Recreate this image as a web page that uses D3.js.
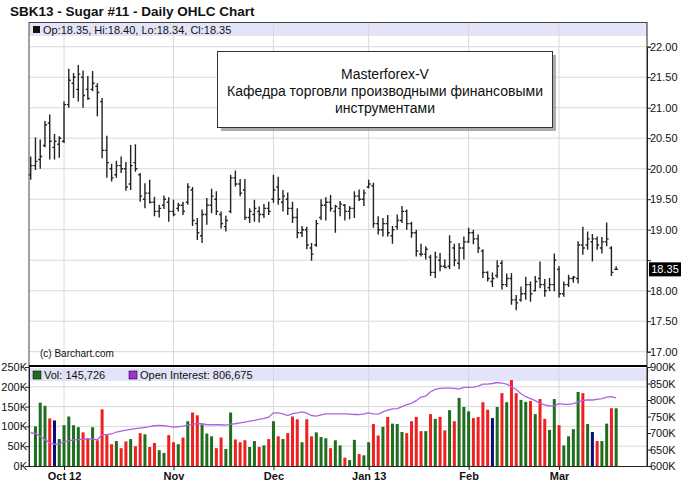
<!DOCTYPE html>
<html><head><meta charset="utf-8">
<script src="https://cdn.jsdelivr.net/npm/d3@7"></script>
<style>body{margin:0;background:#fff}svg{display:block;font-family:Arial,"Liberation Sans",sans-serif}</style>
</head><body><svg id="c" width="688" height="484"></svg>
<script>
const opens=[19.90,20.05,20.15,20.38,20.75,20.35,20.40,20.45,21.05,21.40,21.30,21.50,21.30,21.30,21.35,21.10,20.30,20.00,19.90,20.05,20.00,19.75,20.10,19.90,19.50,19.60,19.45,19.30,19.40,19.45,19.30,19.35,19.40,19.45,19.65,19.10,18.90,19.25,19.40,19.50,19.25,19.05,19.30,19.85,19.75,19.65,19.20,19.25,19.30,19.25,19.35,19.50,19.70,19.45,19.50,19.35,19.20,18.95,19.00,18.70,18.75,19.20,19.40,19.45,19.30,19.35,19.40,19.30,19.35,19.55,19.50,19.70,19.72,19.10,19.00,19.10,18.90,19.05,19.15,19.30,19.10,18.95,18.60,18.60,18.55,18.30,18.50,18.40,18.40,18.70,18.45,18.70,18.80,18.95,18.85,18.65,18.30,18.15,18.25,18.45,18.10,18.20,17.85,17.85,17.95,18.10,18.00,18.20,18.10,18.05,18.10,18.35,17.95,18.10,18.20,18.20,18.75,18.75,18.80,18.85,18.70,18.80,18.70,18.35];
const highs=[20.20,20.51,20.48,20.78,20.89,20.57,20.53,21.10,21.64,21.57,21.70,21.61,21.52,21.60,21.40,21.16,20.54,20.08,20.13,20.20,20.11,20.39,20.40,19.93,19.76,19.82,19.54,19.41,19.56,19.53,19.49,19.44,19.46,19.76,19.70,19.19,19.33,19.52,19.67,19.63,19.30,19.23,19.90,19.97,19.83,19.83,19.35,19.49,19.38,19.42,19.46,19.90,19.87,19.65,19.61,19.46,19.35,19.06,19.05,18.78,19.16,19.50,19.53,19.57,19.41,19.47,19.42,19.39,19.63,19.66,19.66,19.82,19.77,19.22,19.19,19.24,19.06,19.25,19.39,19.33,19.13,19.00,18.77,18.73,18.59,18.64,18.62,18.51,18.91,18.77,18.78,18.89,19.03,19.00,18.92,18.68,18.32,18.30,18.50,18.50,18.28,18.29,17.93,18.07,18.23,18.15,18.24,18.48,18.19,18.21,18.61,18.40,18.15,18.26,18.24,18.81,19.05,18.97,18.93,18.89,18.88,19.12,18.73,18.40];
const lows=[19.82,19.98,20.00,20.35,20.15,20.15,20.18,20.42,21.00,21.16,21.10,21.00,21.13,21.27,20.86,20.17,19.85,19.79,19.85,19.93,19.64,19.65,19.95,19.46,19.35,19.43,19.22,19.20,19.34,19.13,19.22,19.30,19.24,19.41,19.06,18.83,18.78,19.08,19.27,19.24,19.02,18.97,19.27,19.71,19.55,19.16,19.11,19.13,19.12,19.19,19.24,19.44,19.41,19.30,19.24,19.11,18.86,18.88,18.68,18.49,18.72,19.16,19.15,19.30,18.95,19.22,19.15,19.17,19.19,19.47,19.39,19.68,19.03,18.92,18.89,18.89,18.77,19.00,19.11,19.00,18.87,18.56,18.56,18.51,18.24,18.21,18.32,18.37,18.35,18.40,18.35,18.51,18.78,18.76,18.62,18.21,18.15,18.06,18.21,18.02,18.06,17.77,17.68,17.82,17.85,17.82,17.99,18.04,17.90,17.99,17.99,17.89,17.90,18.06,18.13,18.12,18.59,18.67,18.48,18.67,18.61,18.73,18.24,18.34];
const closes=[20.05,20.12,20.20,20.72,20.45,20.45,20.50,21.05,21.45,21.50,21.55,21.20,21.15,21.40,21.25,20.30,20.10,19.85,20.05,20.00,19.70,20.05,20.00,19.55,19.60,19.45,19.30,19.35,19.50,19.30,19.25,19.40,19.30,19.70,19.15,18.95,19.25,19.40,19.55,19.30,19.10,19.15,19.85,19.75,19.60,19.20,19.30,19.35,19.25,19.35,19.30,19.65,19.50,19.55,19.35,19.20,18.95,19.00,18.75,18.60,19.10,19.40,19.45,19.35,19.38,19.42,19.30,19.35,19.55,19.50,19.60,19.75,19.10,19.00,19.10,18.95,19.00,19.15,19.30,19.10,18.95,18.65,18.60,18.68,18.30,18.55,18.40,18.38,18.80,18.50,18.70,18.80,18.95,18.85,18.70,18.30,18.20,18.20,18.40,18.10,18.20,17.85,17.80,17.95,18.10,17.95,18.15,18.10,18.00,18.10,18.50,17.95,18.10,18.20,18.22,18.75,18.70,18.85,18.85,18.75,18.80,18.85,18.30,18.35];
const volumes=[null,100000,160000,152000,120000,115000,68000,103000,125000,103000,98000,85000,70000,98000,65000,143000,78000,55000,63000,45000,62000,68000,50000,83000,80000,48000,58000,40000,33000,78000,60000,55000,72000,113000,135000,128000,105000,82000,75000,45000,72000,43000,135000,67000,60000,65000,48000,63000,48000,52000,68000,113000,75000,68000,83000,125000,118000,60000,118000,75000,85000,73000,70000,45000,65000,52000,21000,15000,66000,30000,27000,60000,106000,77000,99000,124000,107000,106000,86000,83000,113000,124000,88000,88000,131000,119000,124000,90000,141000,113000,172000,149000,138000,121000,124000,161000,142000,121000,149000,184000,161000,217000,184000,167000,162000,164000,131000,169000,119000,91000,169000,103000,52000,75000,93000,187000,184000,106000,86000,63000,63000,107000,146000,145726];
const openInterest=[700000,699000,690000,680000,670000,666000,667000,673000,676000,679000,680000,681000,682000,682000,679000,695000,695000,697000,703000,706000,709000,711000,713000,715000,717000,719000,722000,723000,722000,720000,718000,719000,721000,724000,727000,728000,728000,725000,725000,725000,725000,724000,727000,728000,731000,733000,736000,738000,741000,744000,748000,761000,761000,758000,753000,759000,761000,764000,760000,753000,751000,755000,758000,758000,758000,758000,758000,757000,756000,756000,758000,761000,758000,757000,764000,769000,773000,774000,780000,786000,790000,798000,809000,812000,825000,832000,835000,836000,836000,835000,833000,838000,838000,839000,842000,848000,848000,850000,853000,851000,848000,840000,832000,819000,810000,804000,798000,790000,785000,782000,782000,789000,787000,787000,789000,794000,799000,800000,800000,802000,804000,809000,810000,806675];
const priceTicks=[17,17.5,18,18.5,19,19.5,20,20.5,21,21.5,22];
const volTicks=[0,50000,100000,150000,200000,250000];
const oiTicks=[600000,650000,700000,750000,800000,850000,900000];
const monthIdx=[7,30,51,71,92,111];
const monthLabels=["Oct 12","Nov","Dec","Jan 13","Feb","Mar"];
const titleText="SBK13 - Sugar #11 - Daily OHLC Chart";
const noteLines=["Masterforex-V","Кафедра торговли производными финансовыми","инструментами"];

const svg=d3.select("#c");
const L=29,R=647,T=22,MB=366,VT=367,VB=466;
const n=closes.length;
const x=d3.scaleLinear().domain([0,n-1]).range([30.7,30.7+4.76*(n-1)]);
const y=d3.scaleLinear().domain([17,22]).range([351.7,46.7]);
const yv=d3.scaleLinear().domain([0,250000]).range([VB,VT]);
const yo=d3.scaleLinear().domain([600000,900000]).range([VB,VT]);
const grid="#d9d9d9";

svg.append("text").attr("x",10).attr("y",16).attr("font-size",13.5).attr("font-weight","bold").attr("fill","#111").text(titleText);

// legend bands
svg.append("rect").attr("x",L).attr("y",T+1).attr("width",R-L).attr("height",13).attr("fill","#e4e4f8");
svg.append("rect").attr("x",L).attr("y",VT+1).attr("width",R-L).attr("height",13).attr("fill","#e4e4f8");

// gridlines
const g=svg.append("g");
g.selectAll(".hp").data(priceTicks).join("line").attr("x1",L).attr("x2",R).attr("y1",d=>y(d)).attr("y2",d=>y(d)).attr("stroke",grid);
g.selectAll(".hv").data(volTicks.slice(1,5)).join("line").attr("x1",L).attr("x2",R).attr("y1",d=>yv(d)).attr("y2",d=>yv(d)).attr("stroke",grid);
g.selectAll(".vm").data(monthIdx).join("line").attr("x1",d=>x(d)).attr("x2",d=>x(d)).attr("y1",T).attr("y2",VB).attr("stroke",grid);

// legend texts
svg.append("rect").attr("x",33).attr("y",26).attr("width",7).attr("height",7).attr("fill","#111");
const last=n-1;
svg.append("text").attr("x",43).attr("y",33.5).attr("font-size",11).attr("fill","#111")
  .text(`Op:${opens[last].toFixed(2)}, Hi:${highs[last].toFixed(2)}, Lo:${lows[last].toFixed(2)}, Cl:${closes[last].toFixed(2)}`);
svg.append("rect").attr("x",33).attr("y",371).attr("width",8).attr("height",8).attr("fill","#1f6e1f").attr("stroke","#111").attr("stroke-width",0.6);
svg.append("text").attr("x",44).attr("y",379).attr("font-size",11).attr("fill","#111").text("Vol: "+d3.format(",")(volumes[last]));
svg.append("rect").attr("x",129).attr("y",371).attr("width",8).attr("height",8).attr("fill","#a030d8").attr("stroke","#111").attr("stroke-width",0.6);
svg.append("text").attr("x",140).attr("y",379).attr("font-size",11).attr("fill","#111").text("Open Interest: "+d3.format(",")(openInterest[last]));

// volume bars
const idx=d3.range(n);
function vcol(i){ if(closes[i]>closes[i-1])return "#1f6e1f"; if(closes[i]<closes[i-1])return "#ee2020"; return "#0a0a78";}
svg.append("g").selectAll("rect").data(idx.filter(i=>volumes[i]!=null)).join("rect")
  .attr("x",i=>x(i)-1.5).attr("width",3).attr("y",i=>yv(volumes[i])).attr("height",i=>VB-yv(volumes[i])).attr("fill",vcol);

// open interest line
svg.append("path").datum(idx).attr("fill","none").attr("stroke","#b060e0").attr("stroke-width",1.3)
  .attr("d",d3.line().x(i=>x(i)).y(i=>yo(openInterest[i])));

// OHLC bars
svg.append("g").selectAll("path").data(idx).join("path").attr("fill","none").attr("stroke","#222").attr("stroke-width",1.4)
  .attr("d",i=>{const X=x(i);return `M${X},${y(highs[i])}V${y(lows[i])}M${X-2},${y(opens[i])}H${X}M${X},${y(closes[i])}H${X+2}`;});

// annotation box
svg.append("rect").attr("x",221).attr("y",55).attr("width",335).attr("height",76).attr("fill","#8a8a8a").attr("opacity",0.7);
svg.append("rect").attr("x",217.5).attr("y",51.5).attr("width",335).attr("height",76).attr("fill","#fff").attr("stroke","#333").attr("stroke-width",1);
svg.append("g").selectAll("text").data(noteLines).join("text").attr("x",385).attr("y",(d,i)=>79+i*17)
  .attr("text-anchor","middle").attr("font-size",14).attr("fill","#111").text(d=>d);

svg.append("text").attr("x",40).attr("y",357).attr("font-size",10).attr("fill","#111").text("(c) Barchart.com");

// frame
svg.append("line").attr("x1",L).attr("x2",L).attr("y1",T).attr("y2",VB).attr("stroke","#444");
svg.append("line").attr("x1",L).attr("x2",R).attr("y1",T+0.5).attr("y2",T+0.5).attr("stroke","#444");
svg.append("line").attr("x1",L).attr("x2",R).attr("y1",MB).attr("y2",MB).attr("stroke","#000").attr("stroke-width",2);

// axes
const fmtK=d=>(d/1000)+"K";
const lp=closes[n-1];
const ay=svg.append("g").attr("transform",`translate(${R},0)`).call(d3.axisRight(y).tickValues(priceTicks).tickFormat(d3.format(".2f")).tickSizeOuter(0).tickSize(4));
const ao=svg.append("g").attr("transform",`translate(${R},0)`).call(d3.axisRight(yo).tickValues(oiTicks).tickFormat(fmtK).tickSizeOuter(0).tickSize(4));
const av=svg.append("g").attr("transform",`translate(${L},0)`).call(d3.axisLeft(yv).tickValues(volTicks).tickFormat(fmtK).tickSizeOuter(0).tickSize(4));
const ax=svg.append("g").attr("transform",`translate(0,${VB})`).call(d3.axisBottom(x).tickValues(monthIdx).tickFormat((d,i)=>monthLabels[i]).tickSizeOuter(0).tickSize(4));
svg.append("line").attr("x1",R).attr("x2",R).attr("y1",T).attr("y2",VB).attr("stroke","#222");
[ay,ao,av,ax].forEach(a=>{a.select(".domain").attr("stroke","#222");a.selectAll(".tick line").attr("stroke","#222");
  a.selectAll("text").attr("font-family","Arial, Liberation Sans, sans-serif").attr("font-size",11).attr("fill","#111");});
ay.selectAll("text").attr("x",3);ao.selectAll("text").attr("x",3);av.selectAll("text").attr("x",-2);
// the last-price tag covers the nearby price label
ay.selectAll(".tick").filter(d=>Math.abs(y(d)-y(lp))<12).select("text").remove();
ax.selectAll("text").attr("font-weight","bold").attr("y",6);
ax.select(".domain").attr("d",`M${L},0.5H${R}`);

// last price tag
svg.append("rect").attr("x",649).attr("y",y(lp)-7).attr("width",32).attr("height",14).attr("fill","#000");
svg.append("text").attr("x",665).attr("y",y(lp)+4).attr("text-anchor","middle").attr("font-size",11).attr("fill","#fff").text(lp.toFixed(2));
</script></body></html>
